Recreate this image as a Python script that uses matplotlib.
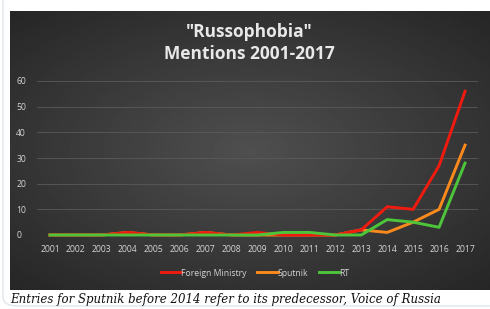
import numpy as np
import matplotlib.pyplot as plt
from matplotlib.patches import FancyBboxPatch

years = list(range(2001, 2018))
foreign_ministry = [0, 0, 0, 1, 0, 0, 1, 0, 1, 0, 0, 0, 2, 11, 10, 27, 56]
sputnik = [0, 0, 0, 1, 0, 0, 1, 0, 0, 0, 0, 0, 2, 1, 5, 10, 35]
rt = [0, 0, 0, 0, 0, 0, 0, 0, 0, 1, 1, 0, 0, 6, 5, 3, 28]
yticks = [0, 10, 20, 30, 40, 50, 60]

W, H = 490, 309
fig = plt.figure(figsize=(W / 100, H / 100), dpi=100)
fig.patch.set_facecolor("white")

# card border
card = FancyBboxPatch((3 / W, 3 / H), 500 / W, 330 / H,
                      boxstyle="round,pad=0,rounding_size=0.03",
                      transform=fig.transFigure, facecolor="white",
                      edgecolor="#dfe6ec", linewidth=1.0, zorder=-10)
fig.patches.append(card)

# dark radial-ish background of the chart
bg = fig.add_axes([10 / W, 1 - 290 / H, 480 / W, 279 / H])
bg.set_zorder(0)
gx, gy = np.meshgrid(np.linspace(-1, 1, 300), np.linspace(-1, 1, 200))
r = np.sqrt((gx * 0.85) ** 2 + (gy * 0.9) ** 2)
shade = 0.31 - 0.13 * np.clip(r, 0, 1.3)
bg.imshow(shade, cmap="gray", vmin=0, vmax=1, aspect="auto",
          extent=[0, 1, 0, 1], interpolation="bilinear")
bg.set_axis_off()

# plot area: gridline 0 at y=235, 60 at y=81; x from 37 to 478
ax = fig.add_axes([37 / W, 1 - 235 / H, 441 / W, 154 / H])
ax.set_zorder(1)
ax.set_facecolor("none")
ax.set_xlim(2000.5, 2017.5)
ax.set_ylim(0, 60)
ax.set_yticks(yticks)
ax.set_xticks(years)
ax.set_xticklabels([str(y) for y in years])
ax.yaxis.grid(True, color="#5a5a5a", linewidth=0.6)
ax.set_axisbelow(True)
for s in ax.spines.values():
    s.set_visible(False)
ax.tick_params(length=0, colors="#d4d4d4", labelsize=6.2)
ax.tick_params(axis="x", pad=7)
ax.tick_params(axis="y", pad=15)
for lab in ax.get_xticklabels() + ax.get_yticklabels():
    lab.set_family("Open Sans")
for lab in ax.get_yticklabels():
    lab.set_horizontalalignment("left")

ax.plot(years, foreign_ministry, color="#f01a0f", lw=2.1, label="Foreign Ministry", clip_on=False, zorder=3)
ax.plot(years, sputnik, color="#fb8a1c", lw=2.1, label="Sputnik", clip_on=False, zorder=2)
ax.plot(years, rt, color="#4dc53a", lw=2.1, label="RT", clip_on=False, zorder=4)

leg = fig.legend(loc="center", bbox_to_anchor=(255 / W, 1 - 273 / H), ncol=3,
                 frameon=False, handlelength=2.4, handletextpad=0.0,
                 columnspacing=1.2, labelcolor="#d4d4d4",
                 prop={"family": "Open Sans", "size": 6.2})
leg.set_zorder(5)

t1 = fig.text(249 / W, 1 - 32 / H, '"Russophobia"', ha="center", va="center",
              color="#e8e8e8", fontsize=12.5, fontweight="bold", family="Open Sans")
t2 = fig.text(249 / W, 1 - 54 / H, "Mentions 2001-2017", ha="center", va="center",
              color="#e8e8e8", fontsize=12.5, fontweight="bold", family="Open Sans")
t1.set_zorder(5)
t2.set_zorder(5)

fig.text(10 / W, 1 - 299 / H,
         "Entries for Sputnik before 2014 refer to its predecessor, Voice of Russia",
         ha="left", va="center", color="#111111", fontsize=8.5,
         style="italic", family="DejaVu Serif")

fig.savefig("out.png", dpi=100)
